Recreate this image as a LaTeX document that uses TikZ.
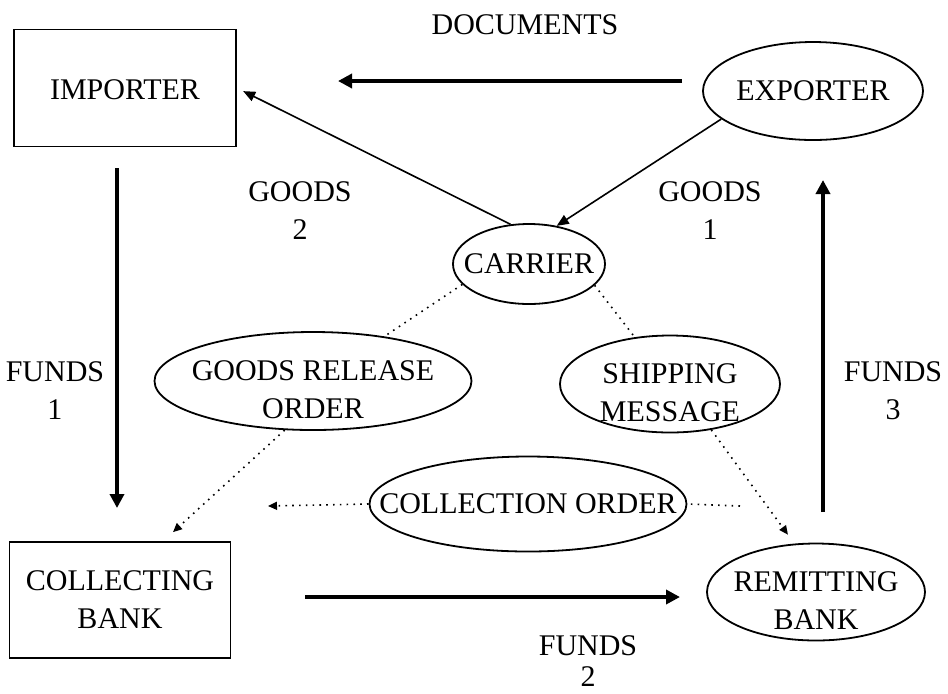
\documentclass[tikz,border=0pt]{standalone}
\usepackage{fontspec}
\setmainfont{Liberation Serif}
\usepackage{tikz}
\usetikzlibrary{arrows.meta, calc, shapes.geometric}

\begin{document}
\begin{tikzpicture}[x=0.5pt, y=-0.5pt,
	every node/.style={font=\fontsize{15}{19}\selectfont, align=center},
	party/.style={draw, line width=0.9pt, rectangle, minimum width=111pt, minimum height=58.5pt},
	oval/.style={draw, line width=0.9pt, ellipse, inner sep=-20pt},
	twoline/.style={text height=37pt, text depth=0pt},
	flow/.style={line width=2pt, -{Triangle[length=7pt, width=7pt]}},
	goods/.style={line width=0.8pt, -{Triangle[length=6pt, width=5pt]}},
	msg/.style={line width=0.8pt, dash pattern=on 0.8pt off 2.6pt},
	msgarrow/.style={msg, -{Triangle[length=4.5pt, width=4pt]}}]

	\useasboundingbox[fill=white] (0,0) rectangle (948,693);

	\coordinate (docA) at (682,81);
	\coordinate (docB) at (338,81);
	\coordinate (fundsA1) at (117,168);
	\coordinate (fundsA2) at (117,508);
	\coordinate (fundsB1) at (305,597);
	\coordinate (fundsB2) at (680,597);
	\coordinate (fundsC1) at (823,512);
	\coordinate (fundsC2) at (823,180);
	\coordinate (collA) at (740,506);
	\coordinate (collB) at (268,506);

	\node[party, text height=12pt] (importer) at (125,88) {IMPORTER};
	\node[party, minimum width=110.5pt, minimum height=58pt] (collecting) at (120,600) {COLLECTING\\BANK};
	\node[oval, minimum width=110pt, minimum height=49pt] (exporter) at (813,91) {EXPORTER};
	\node[oval, minimum width=76pt, minimum height=40pt] (carrier) at (529,264) {CARRIER};
	\node[oval, twoline, minimum width=158.5pt, minimum height=49pt] (release) at (313,381) {GOODS RELEASE\\ORDER};
	\node[oval, twoline, minimum width=110pt, minimum height=48.5pt] (shipping) at (670,384) {SHIPPING\\MESSAGE};
	\node[oval, minimum width=158.5pt, minimum height=47.5pt] (collection) at (528,504) {COLLECTION ORDER};
	\node[oval, twoline, minimum width=109pt, minimum height=48.5pt] (remitting) at (816,592) {REMITTING\\BANK};

	\node (documents) at (525,25) {DOCUMENTS};
	\node (goodsB) at (300,211) {GOODS\\2};
	\node (goodsA) at (710,211) {GOODS\\1};
	\node (fundsA) at (55,391) {FUNDS\\1};
	\node (fundsC) at (893,391) {FUNDS\\3};
	\node[font=\fontsize{15}{15.5}\selectfont] (fundsB) at (588,661) {FUNDS\\2};

	\draw[flow] (docA) -- (docB);
	\draw[flow] (fundsA1) -- (fundsA2);
	\draw[flow] (fundsB1) -- (fundsB2);
	\draw[flow] (fundsC1) -- (fundsC2);

	\draw[goods] (exporter.197) -- (carrier.54);
	\draw[goods, shorten >=3.5pt] (carrier.115) -- (importer.east);

	\draw[msg] (carrier.197) -- (release.32);
	\draw[msg] (carrier.342) -- (shipping.127);
	\draw[msgarrow] (release.240) -- ($(collecting.north)+(53,-9)$);
	\draw[msgarrow, shorten >=5.5pt] (shipping.312) -- (remitting.114);
	\draw[msg] (collA) -- (collection.east);
	\draw[msgarrow] (collection.west) -- (collB);
\end{tikzpicture}
\end{document}
